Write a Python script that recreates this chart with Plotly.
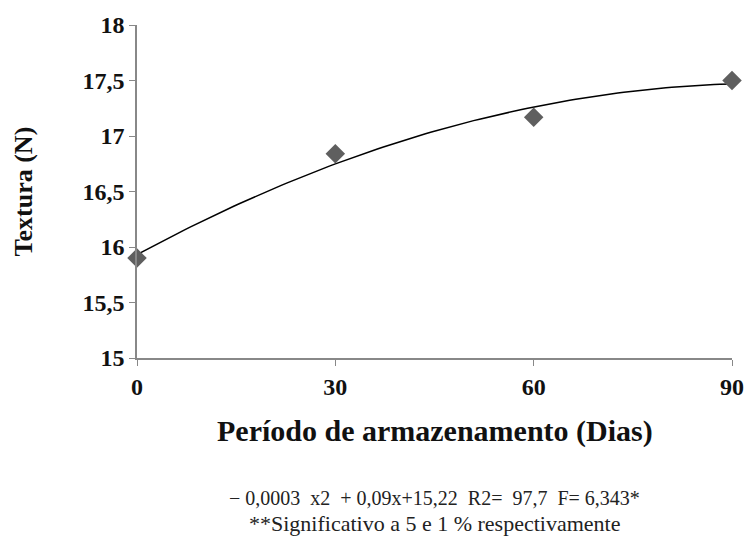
import numpy as np
import plotly.graph_objects as go

dias = [0, 30, 60, 90]
textura = [15.90, 16.84, 17.17, 17.50]
y_ticks = [15, 15.5, 16, 16.5, 17, 17.5, 18]
y_tick_labels = ["15", "15,5", "16", "16,5", "17", "17,5", "18"]
x_ticks = [0, 30, 60, 90]
eq_text = "− 0,0003  x2  + 0,09x+15,22  R2=  97,7  F= 6,343*"
note_text = "**Significativo a 5 e 1 % respectivamente"

coef = np.polyfit(dias, textura, 2)
xs = np.linspace(0, 90, 100)
ys = np.polyval(coef, xs)

font = "Liberation Serif"

fig = go.Figure()
fig.add_trace(go.Scatter(x=xs, y=ys, mode="lines",
                         line=dict(color="black", width=1.5), showlegend=False))
fig.add_trace(go.Scatter(x=dias, y=textura, mode="markers",
                         marker=dict(symbol="diamond", size=15, color="#5f5f5f"),
                         showlegend=False, cliponaxis=False))

fig.update_layout(
    width=756, height=551,
    margin=dict(l=137, r=17, t=25, b=193),
    plot_bgcolor="white", paper_bgcolor="white",
    font=dict(family=font, color="black"),
    xaxis=dict(range=[0, 90], tickvals=x_ticks, ticks="outside", ticklen=6,
               tickcolor="#888888", showline=True, linecolor="#888888", linewidth=1.5,
               showgrid=False, zeroline=False,
               tickfont=dict(size=24, family=font, color="#111111", weight="bold")),
    yaxis=dict(range=[15, 18], tickvals=y_ticks, ticktext=y_tick_labels,
               ticks="outside", ticklen=6, tickcolor="#888888",
               showline=True, linecolor="#888888", linewidth=1.5,
               showgrid=False, zeroline=False,
               tickfont=dict(size=24, family=font, color="#111111", weight="bold")),
)

fig.add_annotation(text="Textura (N)", xref="paper", yref="paper",
                   x=-0.19, y=0.5, showarrow=False, textangle=-90,
                   xanchor="center", yanchor="middle",
                   font=dict(size=26, family=font, color="#111111", weight="bold"))
fig.add_annotation(text="Período de armazenamento (Dias)", xref="paper", yref="paper",
                   x=0.5, y=-0.219, showarrow=False, yanchor="middle",
                   font=dict(size=30, family=font, color="#111111", weight="bold"))
fig.add_annotation(text=eq_text, xref="paper", yref="paper",
                   x=0.5, y=-0.42, showarrow=False, yanchor="middle",
                   font=dict(size=20, family=font, color="#222222"))
fig.add_annotation(text=note_text, xref="paper", yref="paper",
                   x=0.5, y=-0.498, showarrow=False, yanchor="middle",
                   font=dict(size=22, family=font, color="#222222"))

fig.write_html("out.html")
